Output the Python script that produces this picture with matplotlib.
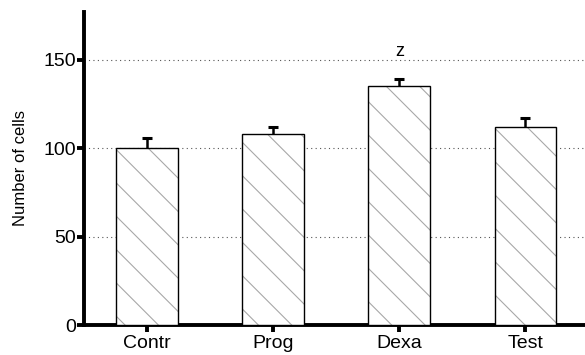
import matplotlib
matplotlib.use("Agg")
import matplotlib.pyplot as plt

categories = ["Contr", "Prog", "Dexa", "Test"]
values = [100, 108, 135, 112]
errors = [5.7, 4.2, 4.2, 4.8]
annotations = ["", "", "z", ""]
yticks = [0, 50, 100, 150]

plt.rcParams['font.family'] = ['Liberation Sans', 'DejaVu Sans']
plt.rcParams['hatch.linewidth'] = 0.8

fig = plt.figure(figsize=(5.85, 3.55), dpi=100)
ax = fig.add_axes([84/585, 30/355, (588.5-84)/585, (325-12)/355])
x = list(range(len(categories)))
ax.bar(x, values, width=0.49, color='white', edgecolor='#a8a8a8', linewidth=0,
       hatch='\\', zorder=3)
ax.bar(x, values, width=0.49, fill=False, edgecolor='black', linewidth=1.0, zorder=3.5)
eb = ax.errorbar(x, values, yerr=[[0]*len(errors), errors], fmt='none', ecolor='black',
                 elinewidth=1.8, capsize=3.5, capthick=2.2, zorder=4)
eb[1][0].set_visible(False)
for xi, v, e, a in zip(x, values, errors, annotations):
    if a:
        ax.text(xi, 152, a, ha='center', va='baseline', fontsize=13)
ax.set_xlim(-0.5, 3.5)
ax.set_ylim(0, 177)
ax.set_yticks(yticks)
ax.set_xticks(x)
ax.set_xticklabels(categories)
ax.yaxis.grid(True, linestyle=(0, (1, 3)), color='#555555', linewidth=0.8, zorder=0)
for s in ['top', 'right']:
    ax.spines[s].set_visible(False)
for s in ['left', 'bottom']:
    ax.spines[s].set_linewidth(2.8)
ax.tick_params(axis='y', width=2.8, length=5, labelsize=14, pad=0.5)
ax.tick_params(axis='x', width=2.8, length=5, labelsize=14, pad=2)
ax.set_ylabel("Number of cells", fontsize=12, labelpad=11)
fig.savefig("out.png", dpi=100)
